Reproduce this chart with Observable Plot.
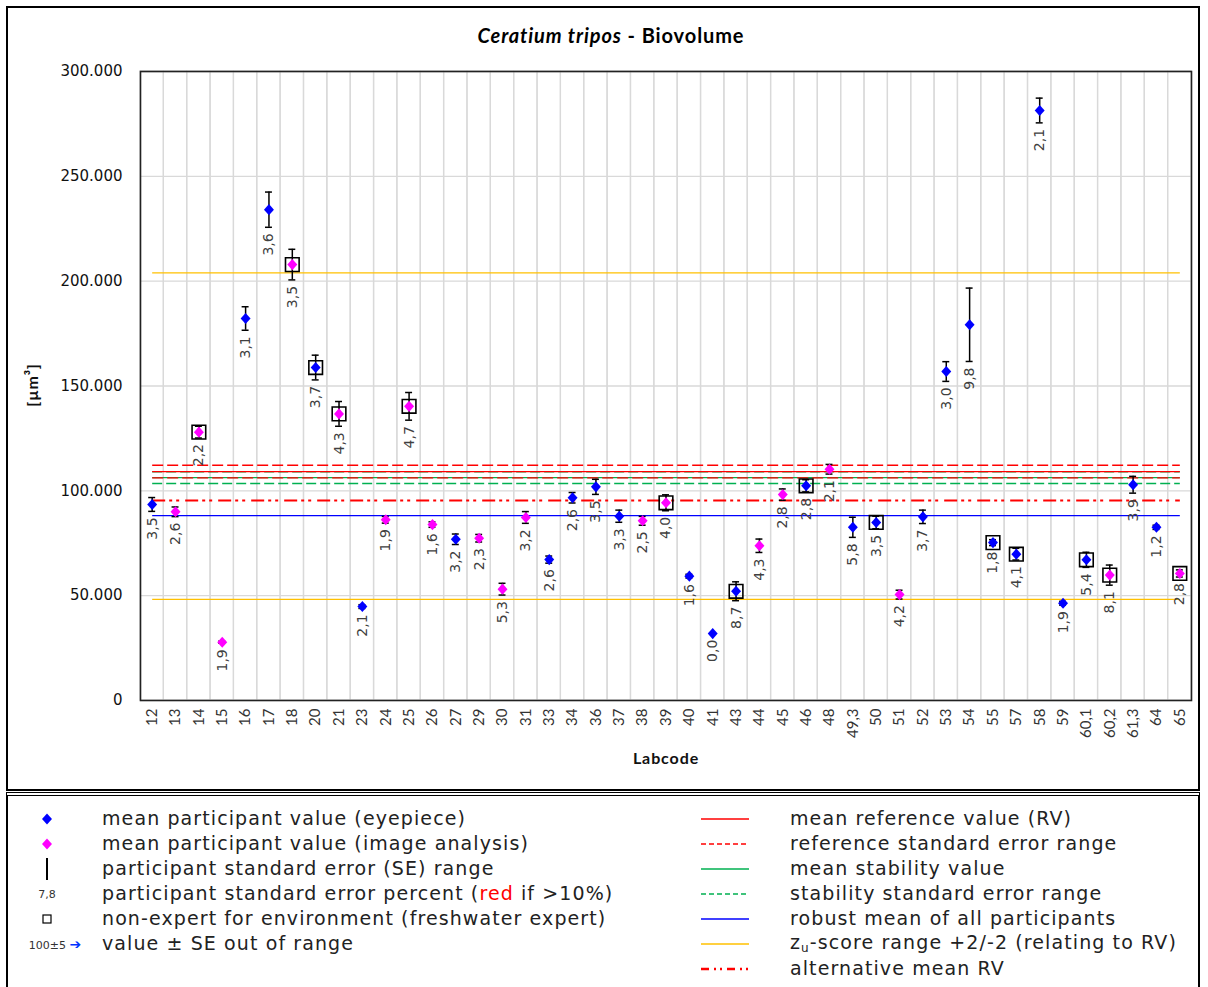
<!DOCTYPE html>
<html>
<head>
<meta charset="utf-8">
<script src="https://cdn.jsdelivr.net/npm/d3@7"></script>
<script src="https://cdn.jsdelivr.net/npm/@observablehq/plot@0.6"></script>
<style>
  body { margin: 0; background: #fff; }
  #wrap { position: relative; width: 1208px; height: 987px; overflow: hidden; background: #fff; }
  #box { position: absolute; left: 6px; top: 6px; width: 1194px; height: 785px; border: 2px solid #000; box-sizing: border-box; }
  #title { position: absolute; top: 23px; left: 0; width: 1222px; text-align: center; font-family: Lato, "Open Sans", sans-serif; font-weight: bold; font-size: 20px; letter-spacing: 0.9px; color: #000; }
  #plot { position: absolute; left: 0; top: 50px; }
  #ylab { position: absolute; left: 31px; top: 385px; transform: translate(-50%, -50%) rotate(-90deg); font-family: Lato, sans-serif; font-weight: bold; font-size: 16px; letter-spacing: 0.8px; color: #111; white-space: nowrap; }
  #xlab { position: absolute; left: 666px; top: 757px; transform: translate(-50%, -50%); font-family: Lato, sans-serif; font-weight: bold; font-size: 16px; letter-spacing: 0.9px; color: #111; }
  #legend { position: absolute; left: 6px; top: 792px; width: 1194px; height: 200px; border-left: 2px solid #000; border-right: 2px solid #000; border-top: 4px double #000; box-sizing: border-box; }
  .row { position: absolute; font-family: "DejaVu Sans", Verdana, sans-serif; font-size: 19px; letter-spacing: 1.1px; color: #222; white-space: nowrap; line-height: 1; transform: translateY(-50%); }
  .sym { position: absolute; transform: translate(-50%, -50%); line-height: 0; }
</style>
</head>
<body>
<div id="wrap">
  <div id="box"></div>
  <div id="title"><i>Ceratium tripos</i> - Biovolume</div>
  <div id="plot"></div>
  <div id="ylab">[µm³]</div>
  <div id="xlab">Labcode</div>
  <div id="legend"></div>
</div>
<script>
// ---- data ----
const labcodes = ["12","13","14","15","16","17","18","20","21","23","24","25","26","27","29","30","31","33","34","36","37","38","39","40","41","43","44","45","46","48","49,3","50","51","52","53","54","55","57","58","59","60,1","60,2","61,3","64","65"];
const meanValues = [93500,90000,128000,27800,182200,234100,207900,158800,136700,44800,86200,140300,83900,76900,77400,53100,87300,67200,96700,101900,87900,85700,94300,59300,31900,52100,73800,98200,102400,110300,82600,84900,50500,87600,156900,179200,75300,69800,281400,46400,67100,59800,102900,82600,60600];
const seValues = [3300,2300,2800,500,5600,8400,7300,5900,5900,900,1600,6600,1300,2500,1800,2800,2800,1700,2500,3600,2900,2100,3800,900,0,4500,3200,2700,2900,2300,4800,3000,2100,3200,4700,17500,1400,2800,5900,900,3600,4800,4000,1000,1700];
const sePercent = ["3,5","2,6","2,2","1,9","3,1","3,6","3,5","3,7","4,3","2,1","1,9","4,7","1,6","3,2","2,3","5,3","3,2","2,6","2,6","3,5","3,3","2,5","4,0","1,6","0,0","8,7","4,3","2,8","2,8","2,1","5,8","3,5","4,2","3,7","3,0","9,8","1,8","4,1","2,1","1,9","5,4","8,1","3,9","1,2","2,8"];
// E = eyepiece, I = image analysis
const methods = ["E","I","I","I","E","E","I","E","I","E","I","I","I","E","I","I","I","E","E","E","E","I","I","E","E","E","I","I","E","I","E","E","I","E","E","E","E","E","E","E","E","I","E","E","I"];
// 1 = non-expert for environment
const nonExpert = [0,0,1,0,0,0,1,1,1,0,0,1,0,0,0,0,0,0,0,0,0,0,1,0,0,1,0,0,1,0,0,1,0,0,0,0,1,1,0,0,1,1,0,0,1];

const yTicks = [0,50000,100000,150000,200000,250000,300000];
const referenceMean = 109200;
const referenceSE = 3000;
const stabilityMean = 106300;
const stabilitySE = 2800;
const robustMean = 88200;
const zuUpper = 204000;
const zuLower = 48200;
const alternativeRV = 95400;

const colorEyepiece = "#0000ff";
const colorImage = "#ff00ff";

// ---- build table ----
const rows = labcodes.map((code, i) => ({
  code, value: meanValues[i], se: seValues[i], pct: sePercent[i],
  method: methods[i], nonExpert: nonExpert[i] === 1
}));

const first = labcodes[0], last = labcodes[labcodes.length - 1];
const hline = (value, stroke, dash, width = 1.3) =>
  Plot.link([value], {x1: () => first, x2: () => last, y1: d => d, y2: d => d, stroke, strokeWidth: width, strokeDasharray: dash});

const diamond = {
  draw(context, size) {
    const s = Math.sqrt(size);
    const hx = s * 0.52, hy = s * 0.58;
    context.moveTo(0, -hy); context.lineTo(hx, 0); context.lineTo(0, hy); context.lineTo(-hx, 0); context.closePath();
  }
};

const loc = d3.formatLocale({decimal: ",", thousands: ".", grouping: [3], currency: ["", ""]});
const fmt = loc.format(",d");

const chart = Plot.plot({
  width: 1208,
  height: 740,
  marginLeft: 140,
  marginRight: 17,
  marginTop: 21,
  marginBottom: 90,
  style: {fontFamily: "\"DejaVu Sans\", Verdana, sans-serif", fontSize: "15px", color: "#222", background: "transparent", overflow: "visible"},
  x: {type: "band", domain: labcodes, padding: 0, round: false, label: null},
  y: {domain: [0, 300000], label: null},
  marks: [
    Plot.cell(labcodes, {x: d => d, fill: "none", stroke: "#d9d9d9", strokeWidth: 1.3}),
    Plot.ruleY(yTicks.slice(1), {stroke: "#d9d9d9", strokeWidth: 1.3}),
    hline(zuUpper, "#ffc000"),
    hline(zuLower, "#ffc000"),
    hline(robustMean, "#0000ff"),
    hline(alternativeRV, "#ff0000", "13 4 3 4 3 6", 2),
    hline(stabilityMean + stabilitySE, "#00b050", "10 4"),
    hline(stabilityMean - stabilitySE, "#00b050", "10 4"),
    hline(stabilityMean, "#00b050"),
    hline(referenceMean + referenceSE, "#ff0000", "11 4"),
    hline(referenceMean - referenceSE, "#ff0000", "11 4"),
    hline(referenceMean, "#ff0000"),
    Plot.frame({stroke: "#222", strokeWidth: 1.6}),
    Plot.axisY({ticks: yTicks, tickFormat: fmt, tickSize: 0, tickPadding: 18, fontSize: 15, fontFamily: "\"DejaVu Sans\", Verdana, sans-serif", fill: "#111"}),
    Plot.axisX({tickSize: 0, tickPadding: 8, tickRotate: -90, fontFamily: "Lato, sans-serif", fontSize: 15, fill: "#333"}),
    Plot.ruleX(rows.filter(d => d.se > 0), {x: "code", y1: d => d.value - d.se, y2: d => d.value + d.se, stroke: "#000", strokeWidth: 1.5}),
    Plot.tickY(rows.filter(d => d.se > 0), {x: "code", y: d => d.value - d.se, stroke: "#000", strokeWidth: 1.5, inset: 8.2}),
    Plot.tickY(rows.filter(d => d.se > 0), {x: "code", y: d => d.value + d.se, stroke: "#000", strokeWidth: 1.5, inset: 8.2}),
    Plot.dot(rows.filter(d => d.nonExpert), {x: "code", y: "value", symbol: "square", r: 7.7, stroke: "#000", strokeWidth: 1.6, fill: "none"}),
    Plot.dot(rows, {x: "code", y: "value", symbol: diamond, r: 5.4, fill: d => d.method === "E" ? colorEyepiece : colorImage, stroke: "none"}),
    Plot.text(rows, {x: "code", y: d => d.value - d.se, text: "pct", rotate: -90, textAnchor: "end", lineAnchor: "middle", dy: 6, fontSize: 14, fontFamily: "\"DejaVu Sans\", Verdana, sans-serif", fill: "#404040"})
  ]
});
document.getElementById("plot").appendChild(chart);

// ---- legend ----
const legend = document.getElementById("legend");
const rowY = [22, 47, 72, 97, 122, 147, 172]; // relative to legend top (792)
const leftItems = [
  {sym: `<svg width="12" height="12"><path d="M6,0.5L11,6L6,11.5L1,6Z" fill="#0000ff"/></svg>`, text: "mean participant value (eyepiece)"},
  {sym: `<svg width="12" height="12"><path d="M6,0.5L11,6L6,11.5L1,6Z" fill="#ff00ff"/></svg>`, text: "mean participant value (image analysis)"},
  {sym: `<svg width="4" height="22"><line x1="2" y1="0" x2="2" y2="22" stroke="#000" stroke-width="2"/></svg>`, text: "participant standard error (SE) range"},
  {sym: `<span style="font-family:'DejaVu Sans',sans-serif;font-size:11px;line-height:1;color:#333">7,8</span>`, text: `participant standard error percent (<span style="color:#ff0000">red</span> if &gt;10%)`},
  {sym: `<svg width="10" height="10"><rect x="1" y="1" width="8" height="8" fill="none" stroke="#000" stroke-width="1.2"/></svg>`, text: "non-expert for environment (freshwater expert)"},
  {sym: `<span style="font-family:'DejaVu Sans',sans-serif;font-size:11px;line-height:1;color:#333;white-space:nowrap">100±5 <span style="color:#0033ff;font-size:14px;font-weight:bold">➔</span></span>`, text: "value ± SE out of range", symX: 55}
];
leftItems.forEach((it, i) => {
  const s = document.createElement("div");
  s.className = "sym";
  s.style.left = ((it.symX || 47) - 8) + "px";
  s.style.top = (rowY[i] + 1) + "px";
  s.innerHTML = it.sym;
  legend.appendChild(s);
  const t = document.createElement("div");
  t.className = "row";
  t.style.left = (102 - 8) + "px";
  t.style.top = rowY[i] + "px";
  t.innerHTML = it.text;
  legend.appendChild(t);
});
const rightItems = [
  {stroke: "#ff0000", dash: "", w: 1.3, text: "mean reference value (RV)"},
  {stroke: "#ff0000", dash: "5 3", w: 1.3, text: "reference standard error range"},
  {stroke: "#00b050", dash: "", w: 1.3, text: "mean stability value"},
  {stroke: "#00b050", dash: "5 3", w: 1.3, text: "stability standard error range"},
  {stroke: "#0000ff", dash: "", w: 1.3, text: "robust mean of all participants"},
  {stroke: "#ffc000", dash: "", w: 1.3, text: "z<sub style=\"font-size:12px;vertical-align:-3px\">u</sub>-score range +2/-2 (relating to RV)"},
  {stroke: "#ff0000", dash: "8 5 2 4 2 5", w: 2.5, text: "alternative mean RV"}
];
rightItems.forEach((it, i) => {
  const s = document.createElement("div");
  s.className = "sym";
  s.style.left = (725 - 8) + "px";
  s.style.top = (rowY[i] + 1) + "px";
  s.innerHTML = `<svg width="48" height="6"><line x1="0" y1="3" x2="48" y2="3" stroke="${it.stroke}" stroke-width="${it.w}" stroke-dasharray="${it.dash}"/></svg>`;
  legend.appendChild(s);
  const t = document.createElement("div");
  t.className = "row";
  t.style.left = (790 - 8) + "px";
  t.style.top = rowY[i] + "px";
  t.innerHTML = it.text;
  legend.appendChild(t);
});
</script>
</body>
</html>
